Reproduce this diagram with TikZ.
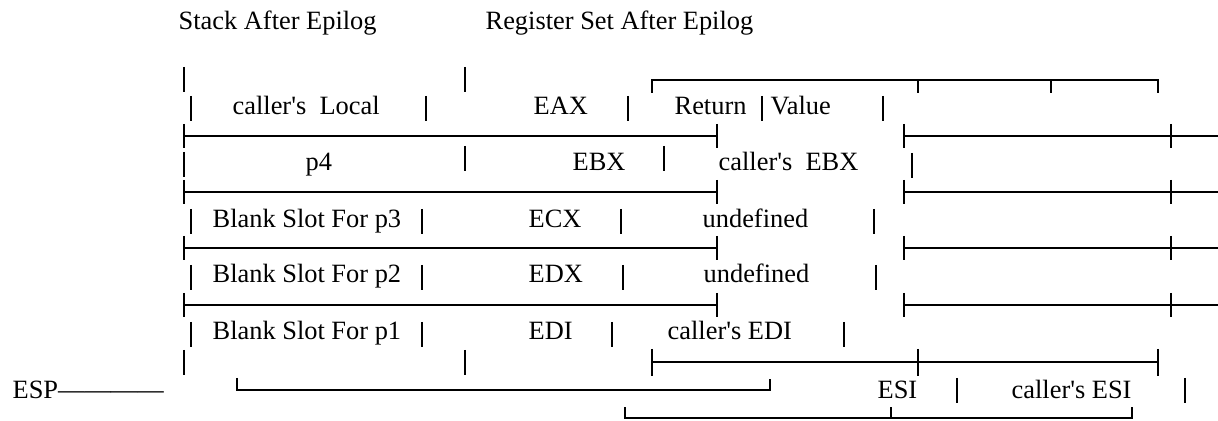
\documentclass[tikz,border=0pt]{standalone}
\usepackage{fontspec}
\setmainfont{Liberation Serif}
\newcommand{\aq}{\textquotesingle}
\begin{document}
\begin{tikzpicture}[x=0.5pt,y=-0.5pt,line width=0.65pt,
  lbl/.style={anchor=base west,inner sep=0pt,font=\fontsize{13.2}{16}\selectfont}]
\useasboundingbox (0,0) rectangle (1218,421);
\node[lbl] (stack) at (178,30) {Stack After Epilog};
\node[lbl] (regs) at (485,30) {Register Set After Epilog};
\node[lbl] (local) at (232,115) {caller\aq s\ \ Local};
\node[lbl] (eax) at (533,115) {EAX};
\node[lbl] (ret) at (674,115) {Return};
\node[lbl] (val) at (770,115) {Value};
\node[lbl] (pfour) at (305,171) {p4};
\node[lbl] (ebx) at (572,171) {EBX};
\node[lbl] (cebx) at (718,171) {caller\aq s\ \ EBX};
\node[lbl] (slotc) at (212,228) {Blank Slot For p3};
\node[lbl] (ecx) at (528,228) {ECX};
\node[lbl] (undc) at (702,228) {undefined};
\node[lbl] (slotd) at (212,283) {Blank Slot For p2};
\node[lbl] (edx) at (528,283) {EDX};
\node[lbl] (undd) at (703,283) {undefined};
\node[lbl] (slote) at (212,340) {Blank Slot For p1};
\node[lbl] (edi) at (528,340) {EDI};
\node[lbl] (cedi) at (667,340) {caller\aq s EDI};
\node[lbl] (esp) at (12,398) {ESP————};
\node[lbl] (esi) at (877,398) {ESI};
\node[lbl] (cesi) at (1011,398) {caller\aq s ESI};
\foreach \x/\b in {184/86,465/86,191/115,426/115,628/115,762/115,883/115,
  184/171,465/165,664/165,912/172,191/228,422/228,621/228,874/228,
  191/284,422/284,623/284,876/284,191/341,422/341,612/341,844/341,
  184/369,465/369,957/397,1185/397}
  \draw (\x,\b-19) -- (\x,\b+6);
\foreach \y in {136,192,248,305} {
  \draw (184,\y) -- (717,\y);
  \draw (184,\y-12) -- (184,\y+12);
  \draw (717,\y-12) -- (717,\y+12);
  \draw (904,\y) -- (1218,\y);
  \draw (904,\y-12) -- (904,\y+12);
  \draw (1171,\y-12) -- (1171,\y+12);
}
\draw (652,93) -- (652,80) -- (1158,80) -- (1158,93);
\draw (918,80) -- (918,93);
\draw (1051,80) -- (1051,93);
\draw (652,362) -- (1158,362);
\foreach \x in {652,918,1158} \draw (\x,349) -- (\x,376);
\draw (237,378) -- (237,390) -- (770,390) -- (770,379);
\draw (625,407) -- (625,418) -- (1132,418) -- (1132,407);
\draw (891,407) -- (891,418);
\end{tikzpicture}
\end{document}
